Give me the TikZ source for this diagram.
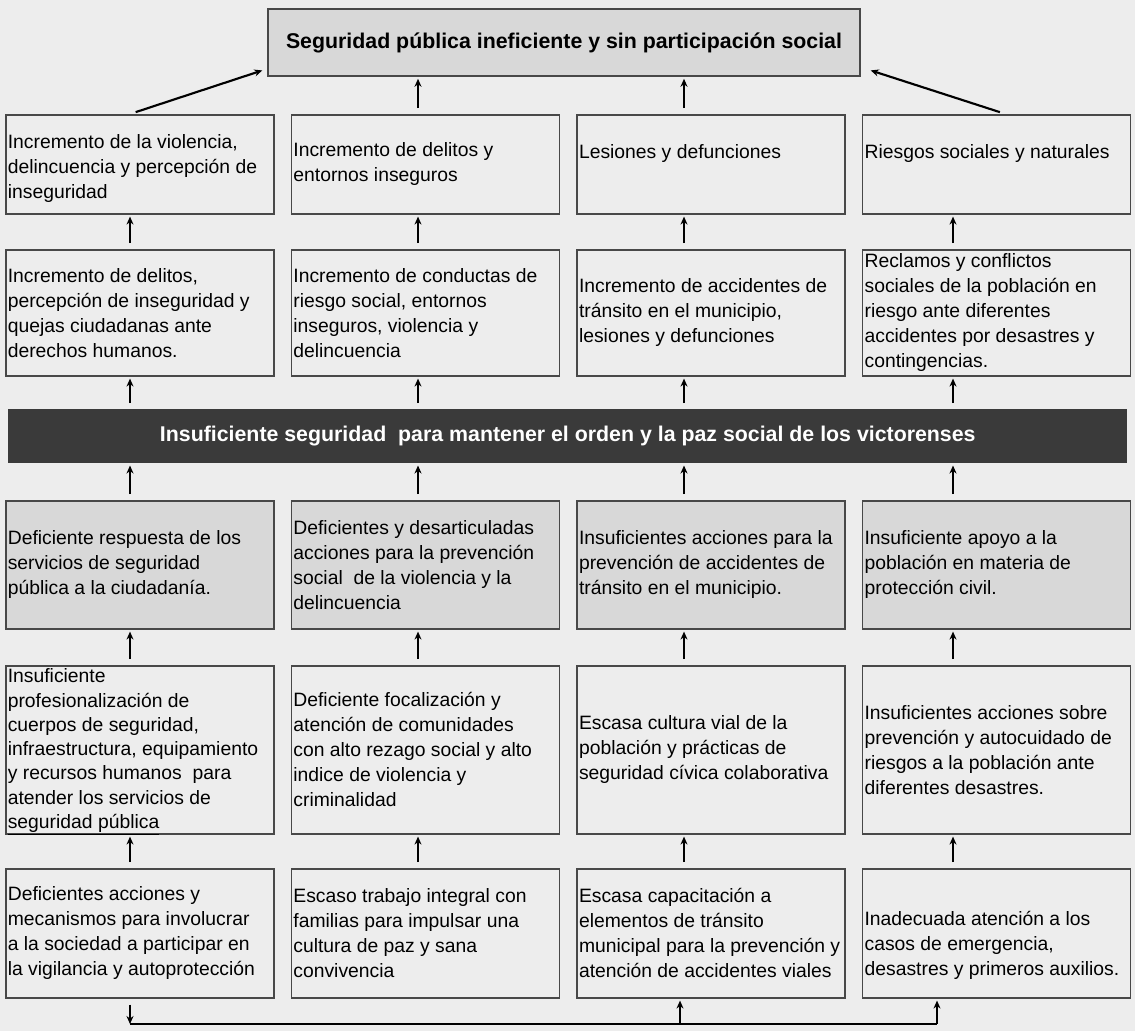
\documentclass[tikz,border=0pt]{standalone}
\usepackage{fontspec}
\setmainfont{Liberation Sans}
\usepackage{tikz}
\usetikzlibrary{arrows.meta,positioning,calc}
\definecolor{PageGray}{HTML}{EDEDED}
\definecolor{CellLine}{HTML}{484848}
\definecolor{CellGray}{HTML}{D8D8D8}
\definecolor{BarGray}{HTML}{3A3A3A}
\newlength\px \setlength\px{0.75pt}
\newcommand{\celltext}[3]{\parbox[c][#1\px][#2]{264\px}{\raggedright #3}}

\begin{document}
\begin{tikzpicture}[
    x=0.75pt, y=-0.75pt,
    node distance=35\px and 16\px,
    cell/.style={draw=CellLine,line width=1.2pt,inner xsep=2\px,inner ysep=3\px,font=\fontsize{14.5}{18.75}\selectfont},
    graycell/.style={cell,fill=CellGray},
    titlebox/.style={draw=CellLine,line width=1.2pt,fill=CellGray,minimum width=592\px,minimum height=67\px,font=\fontsize{16}{19}\selectfont\bfseries},
    bar/.style={fill=BarGray,text=white,minimum width=1119\px,minimum height=54\px,inner sep=0pt,font=\fontsize{16}{19}\selectfont\bfseries},
    arr/.style={-{Stealth[length=6pt,width=5.25pt]},line width=1.6pt,shorten <=4.5pt,shorten >=1.5pt}
  ]
    \fill[PageGray] (0,0) rectangle (1135,1031);
    \useasboundingbox (0,0) rectangle (1135,1031);
    % arrow columns
    \coordinate (x1) at (130,0); \coordinate (x2) at (418,0);
    \coordinate (x3) at (684,0); \coordinate (x4) at (953,0);

    \node[titlebox] (title) at (564,42.5) {Seguridad pública ineficiente y sin participación social};

    % effects
    \node[cell,anchor=north west] (r1c1) at (5,114) {\celltext{93}{c}{\vspace*{8\px}Incremento de la violencia,\\ delincuencia y percepción de\\ inseguridad}};
    \node[cell,right=of r1c1] (r1c2) {\celltext{93}{c}{Incremento de delitos y\\ entornos inseguros}};
    \node[cell,right=of r1c2] (r1c3) {\celltext{93}{c}{Lesiones y defunciones\\ \mbox{}}};
    \node[cell,right=of r1c3] (r1c4) {\celltext{93}{c}{Riesgos sociales y naturales\\ \mbox{}}};

    \node[cell,anchor=north west] (r2c1) at (5,249) {\celltext{120}{c}{Incremento de delitos,\\ percepción de inseguridad y\\ quejas ciudadanas ante\\ derechos humanos.}};
    \node[cell,right=of r2c1] (r2c2) {\celltext{120}{c}{Incremento de conductas de\\ riesgo social, entornos\\ inseguros, violencia y\\ delincuencia}};
    \node[cell,right=of r2c2] (r2c3) {\celltext{120}{c}{Incremento de accidentes de\\ tránsito en el municipio,\\ lesiones y defunciones}};
    \node[cell,fill=CellGray!45,right=of r2c3] (r2c4) {\celltext{120}{c}{Reclamos y conflictos\\ sociales de la población en\\ riesgo ante diferentes\\ accidentes por desastres y\\ contingencias.}};

    \node[bar,anchor=north west] (bar) at (8,409) {Insuficiente seguridad\ \ para mantener el orden y la paz social de los victorenses};

    % causes
    \node[graycell,anchor=north west] (r3c1) at (5,500) {\celltext{122}{c}{Deficiente respuesta de los\\ servicios de seguridad\\ pública a la ciudadanía.}};
    \node[graycell,right=of r3c1] (r3c2) {\celltext{122}{c}{Deficientes y desarticuladas\\ acciones para la prevención\\ social\ \ de la violencia y la\\ delincuencia}};
    \node[graycell,right=of r3c2] (r3c3) {\celltext{122}{c}{Insuficientes acciones para la\\ prevención de accidentes de\\ tránsito en el municipio.}};
    \node[graycell,right=of r3c3] (r3c4) {\celltext{122}{c}{Insuficiente apoyo a la\\ población en materia de\\ protección civil.}};

    \node[cell,anchor=north west] (r4c1) at (5,665) {\celltext{162}{t}{\fontsize{14.5}{18.2}\selectfont Insuficiente\\ profesionalización de\\ cuerpos de seguridad,\\ infraestructura, equipamiento\\ y recursos humanos\ \ para\\ atender los servicios de\\ \underline{seguridad pública}}};
    \node[cell,right=of r4c1] (r4c2) {\celltext{162}{c}{Deficiente focalización y\\ atención de comunidades\\ con alto rezago social y alto\\ indice de violencia y\\ criminalidad}};
    \node[cell,right=of r4c2] (r4c3) {\celltext{162}{c}{Escasa cultura vial de la\\ población y prácticas de\\ seguridad cívica colaborativa}};
    \node[cell,right=of r4c3] (r4c4) {\celltext{162}{c}{Insuficientes acciones sobre\\ prevención y autocuidado de\\ riesgos a la población ante\\ diferentes desastres.}};

    \node[cell,anchor=north west] (r5c1) at (5,868) {\celltext{123}{c}{Deficientes acciones y\\ mecanismos para involucrar\\ a la sociedad a participar en\\ la vigilancia y autoprotección}};
    \node[cell,right=of r5c1] (r5c2) {\celltext{123}{c}{Escaso trabajo integral con\\ familias para impulsar una\\ cultura de paz y sana\\ convivencia}};
    \node[cell,right=of r5c2] (r5c3) {\celltext{123}{c}{Escasa capacitación a\\ elementos de tránsito\\ municipal para la prevención y\\ atención de accidentes viales}};
    \node[cell,right=of r5c3] (r5c4) {\celltext{123}{c}{\vspace*{24\px}Inadecuada atención a los\\ casos de emergencia,\\ desastres y primeros auxilios.}};

    % arrows to the top
    \draw[arr] (r1c1.north -| x1) -- ($(title.south west)+(-3,-7)$);
    \draw[arr] (r1c2.north -| x2) -- (title.south -| x2);
    \draw[arr] (r1c3.north -| x3) -- (title.south -| x3);
    \draw[arr] ($(r1c4.north)+(9,0)$) -- ($(title.south east)+(8,-7)$);
    \draw[arr] (r2c1.north -| x1) -- (r1c1.south -| x1); \draw[arr] (r2c2.north -| x2) -- (r1c2.south -| x2);
    \draw[arr] (r2c3.north -| x3) -- (r1c3.south -| x3); \draw[arr] (r2c4.north -| x4) -- (r1c4.south -| x4);
    \draw[arr] (bar.north -| x1) -- (r2c1.south -| x1); \draw[arr] (bar.north -| x2) -- (r2c2.south -| x2);
    \draw[arr] (bar.north -| x3) -- (r2c3.south -| x3); \draw[arr] (bar.north -| x4) -- (r2c4.south -| x4);
    \draw[arr] (r3c1.north -| x1) -- (bar.south -| x1); \draw[arr] (r3c2.north -| x2) -- (bar.south -| x2);
    \draw[arr] (r3c3.north -| x3) -- (bar.south -| x3); \draw[arr] (r3c4.north -| x4) -- (bar.south -| x4);
    \draw[arr] (r4c1.north -| x1) -- (r3c1.south -| x1); \draw[arr] (r4c2.north -| x2) -- (r3c2.south -| x2);
    \draw[arr] (r4c3.north -| x3) -- (r3c3.south -| x3); \draw[arr] (r4c4.north -| x4) -- (r3c4.south -| x4);
    \draw[arr] (r5c1.north -| x1) -- (r4c1.south -| x1); \draw[arr] (r5c2.north -| x2) -- (r4c2.south -| x2);
    \draw[arr] (r5c3.north -| x3) -- (r4c3.south -| x3); \draw[arr] (r5c4.north -| x4) -- (r4c4.south -| x4);

    % bottom link
    \coordinate (b1) at (130,1024); \coordinate (b3) at (680,1024); \coordinate (b4) at (937,1024);
    \draw[arr,shorten >=0pt] (r5c1.south -| b1) -- (b1);
    \draw[line width=1.2pt] (b1) -- (b4);
    \draw[arr,shorten <=0pt] (b3) -- (r5c3.south -| b3);
    \draw[arr,shorten <=0pt] (b4) -- (r5c4.south -| b4);
  \end{tikzpicture}
\end{document}
